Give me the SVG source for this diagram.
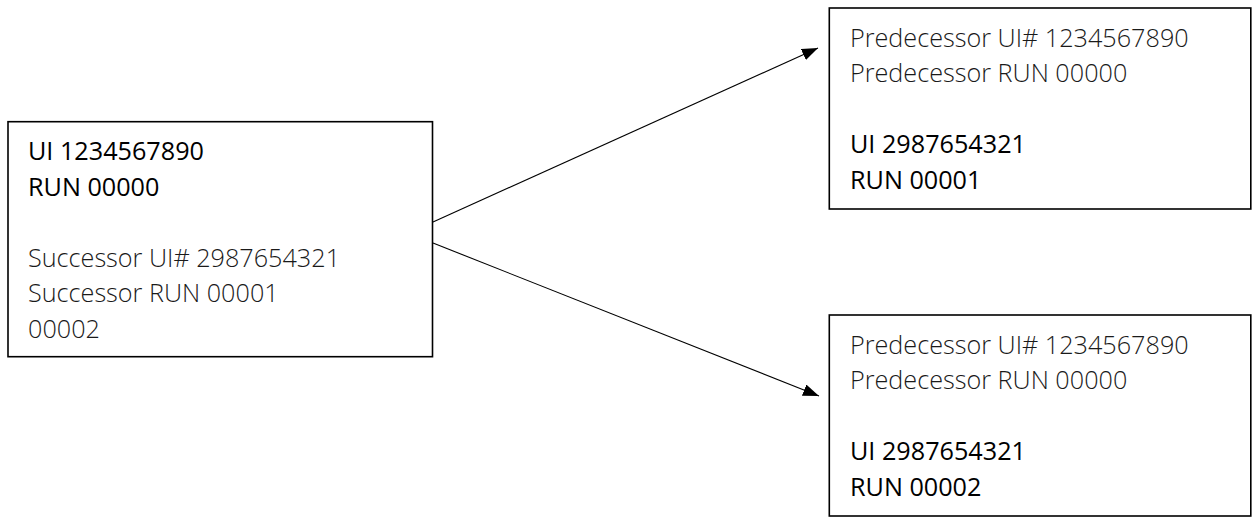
<svg xmlns="http://www.w3.org/2000/svg" width="1252" height="518" viewBox="0 0 1252 518">
<style>
.box{fill:#fff;stroke:#000;stroke-width:1.6}
.t{font-family:"Open Sans","Noto Sans","Liberation Sans",sans-serif;font-size:25.2px;fill:#000}
.l{font-weight:300;fill:#1a1a1a}
.r{font-weight:400}
.c{stroke:#000;stroke-width:1.1;fill:none}
</style>
<defs>
<marker id="ah" viewBox="0 0 16 12" refX="16" refY="6" markerWidth="16" markerHeight="12" markerUnits="userSpaceOnUse" orient="auto">
<path d="M0,0 L16,6 L0,12 Z" fill="#000"/>
</marker>
</defs>
<g id="connectors">
<line class="c" x1="433" y1="222" x2="818" y2="48" marker-end="url(#ah)"/>
<line class="c" x1="433" y1="243" x2="819" y2="396" marker-end="url(#ah)"/>
</g>
<g id="node-source">
<rect class="box" x="8" y="121.7" width="424.5" height="235"/>
<text class="t r" x="28" y="160">UI 1234567890</text>
<text class="t r" x="28" y="195.5">RUN 00000</text>
<text class="t l" x="28" y="266.5">Successor UI# 2987654321</text>
<text class="t l" x="28" y="302">Successor RUN 00001</text>
<text class="t l" x="28" y="337.5">00002</text>
</g>
<g id="node-succ1">
<rect class="box" x="829.3" y="8" width="421.5" height="201"/>
<text class="t l" x="850" y="46.5">Predecessor UI# 1234567890</text>
<text class="t l" x="850" y="82">Predecessor RUN 00000</text>
<text class="t r" x="850" y="153">UI 2987654321</text>
<text class="t r" x="850" y="188.5">RUN 00001</text>
</g>
<g id="node-succ2">
<rect class="box" x="829.3" y="315" width="421.5" height="201"/>
<text class="t l" x="850" y="353.5">Predecessor UI# 1234567890</text>
<text class="t l" x="850" y="389">Predecessor RUN 00000</text>
<text class="t r" x="850" y="460">UI 2987654321</text>
<text class="t r" x="850" y="495.5">RUN 00002</text>
</g>
</svg>
